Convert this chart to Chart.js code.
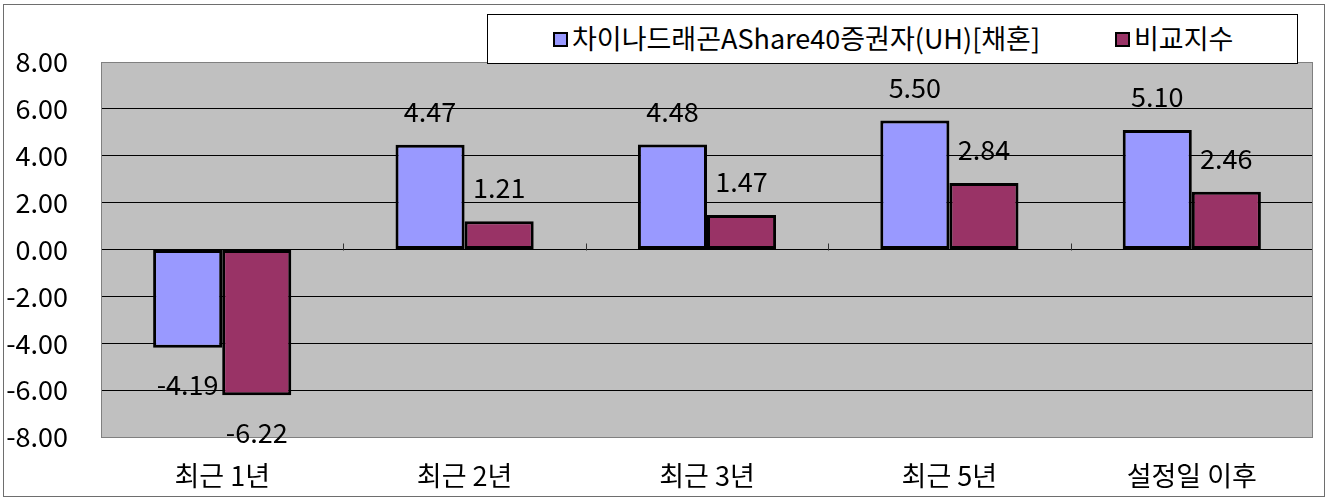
<!DOCTYPE html>
<html>
<head>
<meta charset="utf-8">
<script src="https://cdn.jsdelivr.net/npm/chart.js@4"></script>
<style>
  html, body { margin: 0; padding: 0; background: #fff; }
  #wrap { position: relative; width: 1328px; height: 500px; }
  #legend {
    position: absolute; left: 487px; top: 14px; width: 809px; height: 48px;
    background: #fff; border: 1px solid #000;
    font-family: 'Noto Sans CJK KR', 'Noto Sans', sans-serif; font-size: 27px; color: #000;
  }
  .item { position: absolute; top: -1px; height: 48px; line-height: 48px; white-space: nowrap; }
  .mark { position: absolute; top: 17px; width: 11px; height: 11px; border: 2px solid #000; }
</style>
</head>
<body>
<div id="wrap">
  <canvas id="chart" width="1328" height="500"></canvas>
  <div id="legend"></div>
</div>
<script>
// Korean fund performance vs. benchmark — grouped bars, Excel-style grey plot area.

const CATEGORIES = ['최근 1년', '최근 2년', '최근 3년', '최근 5년', '설정일 이후'];
const SERIES_NAMES = ['차이나드래곤AShare40증권자(UH)[채혼]', '비교지수'];
const FUND = [-4.19, 4.47, 4.48, 5.50, 5.10];
const BENCH = [-6.22, 1.21, 1.47, 2.84, 2.46];
const Y_TICKS = [-8, -6, -4, -2, 0, 2, 4, 6, 8];

const COLORS = {
    fund: '#9999ff',
    bench: '#993366',
    plot: '#c0c0c0',
    frame: '#808080',
    grid: '#000000',
};

const FONT = "'Noto Sans CJK KR', 'Noto Sans', sans-serif";
const FONT_SIZE = 27;

// html legend, sits over the top edge of the plot like the excel one
const legendEl = document.getElementById('legend');
const legendPos = [{ mark: 65, text: 84 }, { mark: 627, text: 646 }];
SERIES_NAMES.forEach((name, i) => {
    const mark = document.createElement('span');
    mark.className = 'mark';
    mark.style.left = legendPos[i].mark + 'px';
    mark.style.background = i === 0 ? COLORS.fund : COLORS.bench;
    const txt = document.createElement('span');
    txt.className = 'item';
    txt.style.left = legendPos[i].text + 'px';
    txt.textContent = name;
    legendEl.appendChild(mark);
    legendEl.appendChild(txt);
});

const plotFrame = {
    id: 'plotFrame',
    beforeDraw(chart) {
        const { ctx, chartArea: a } = chart;
        ctx.save();
        ctx.fillStyle = COLORS.plot;
        ctx.fillRect(a.left, a.top, a.right - a.left, a.bottom - a.top);
        ctx.strokeStyle = '#6e6e6e';
        ctx.lineWidth = 1;
        ctx.strokeRect(3.5, 4.5, chart.width - 7, chart.height - 8);
        ctx.restore();
    },
    beforeDatasetsDraw(chart) {
        const { ctx, chartArea: a, scales } = chart;
        ctx.save();
        ctx.strokeStyle = COLORS.frame;
        ctx.lineWidth = 1;
        ctx.strokeRect(a.left + 0.5, a.top + 0.5, a.right - a.left - 1, a.bottom - a.top);
        // small category tick marks on the zero line
        const y0 = Math.round(scales.y.getPixelForValue(0)) + 0.5;
        const step = (a.right - a.left) / CATEGORIES.length;
        ctx.strokeStyle = '#333';
        ctx.beginPath();
        for (let i = 1; i < CATEGORIES.length; i++) {
            const x = Math.round(a.left + step * i) + 0.5;
            ctx.moveTo(x, y0 - 7);
            ctx.lineTo(x, y0);
        }
        ctx.stroke();
        ctx.restore();
    },
};

const valueLabels = {
    id: 'valueLabels',
    afterDatasetsDraw(chart) {
        const { ctx } = chart;
        ctx.save();
        ctx.font = FONT_SIZE + 'px ' + FONT;
        ctx.fillStyle = '#000';
        ctx.textAlign = 'center';
        ctx.textBaseline = 'middle';
        chart.data.datasets.forEach((ds, di) => {
            chart.getDatasetMeta(di).data.forEach((bar, i) => {
                const v = ds.data[i];
                const y = v >= 0 ? bar.y - 33 : bar.y + 37;
                ctx.fillText(v.toFixed(2), bar.x, y);
            });
        });
        ctx.restore();
    },
};

new Chart(document.getElementById('chart'), {
    type: 'bar',
    data: {
        labels: CATEGORIES,
        datasets: [
            {
                label: SERIES_NAMES[0],
                data: FUND,
                backgroundColor: COLORS.fund,
                borderColor: '#000',
                borderWidth: 3,
                borderSkipped: false,
            },
            {
                label: SERIES_NAMES[1],
                data: BENCH,
                backgroundColor: COLORS.bench,
                borderColor: '#000',
                borderWidth: 3,
                borderSkipped: false,
            },
        ],
    },
    options: {
        responsive: false,
        animation: false,
        events: [],
        layout: { padding: { top: 62, right: 15, left: 0, bottom: 0 } },
        datasets: { bar: { categoryPercentage: 0.57, barPercentage: 1 } },
        plugins: { legend: { display: false }, tooltip: { enabled: false } },
        scales: {
            x: {
                grid: { display: false, drawTicks: false },
                border: { display: false },
                ticks: { color: '#000', font: { family: FONT, size: FONT_SIZE }, padding: 23, maxRotation: 0 },
                afterFit: s => { s.height = 63; },
            },
            y: {
                min: Y_TICKS[0],
                max: Y_TICKS[Y_TICKS.length - 1],
                afterBuildTicks: s => { s.ticks = Y_TICKS.map(v => ({ value: v })); },
                grid: { color: COLORS.grid, drawTicks: false },
                border: { display: false },
                ticks: {
                    color: '#000',
                    font: { family: FONT, size: FONT_SIZE },
                    padding: 33,
                    callback: v => v.toFixed(2),
                },
                afterFit: s => { s.width = 101; },
            },
        },
    },
    plugins: [plotFrame, valueLabels],
});
</script>
</body>
</html>
